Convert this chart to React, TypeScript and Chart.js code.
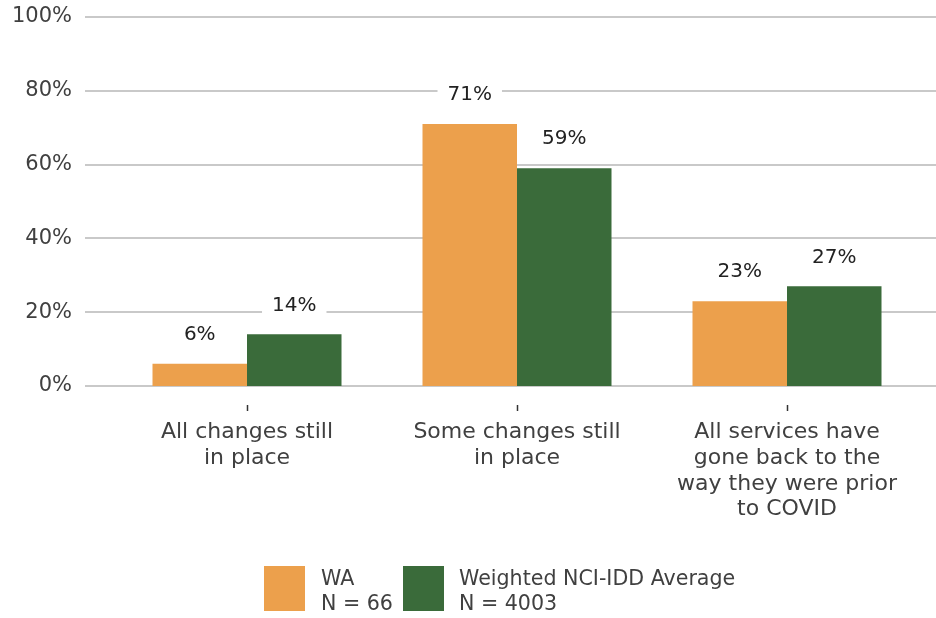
import React, { useEffect, useRef } from "react";
import { Chart, registerables } from "chart.js";

Chart.register(...registerables);

const categories: string[][] = [
  ["All changes still", "in place"],
  ["Some changes still", "in place"],
  ["All services have", "gone back to the", "way they were prior", "to COVID"],
];
const waValues = [6, 71, 23];
const ncValues = [14, 59, 27];
const seriesNames = ["WA", "Weighted NCI-IDD Average"];
const seriesN = ["N = 66", "N = 4003"];
const seriesColors = ["#ECA04C", "#3A6B3A"];

const FONT = "'DejaVu Sans', sans-serif";
const TEXT = "#404040";

const gridPlugin = {
  id: "customGrid",
  beforeDatasetsDraw(chart: any) {
    const { ctx, scales } = chart;
    const y = scales.y;
    ctx.save();
    ctx.strokeStyle = "#c9c9c9";
    ctx.lineWidth = 2;
    y.ticks.forEach((t: any) => {
      const py = Math.round(y.getPixelForValue(t.value));
      ctx.beginPath();
      ctx.moveTo(85, py);
      ctx.lineTo(chart.width, py);
      ctx.stroke();
    });
    // x tick marks
    const x = scales.x;
    const bottom = chart.chartArea.bottom;
    ctx.strokeStyle = "#333";
    ctx.lineWidth = 1.5;
    categories.forEach((_, i) => {
      const px = Math.round(x.getPixelForValue(i)) + 0.5;
      ctx.beginPath();
      ctx.moveTo(px, bottom + 19);
      ctx.lineTo(px, bottom + 25);
      ctx.stroke();
    });
    ctx.restore();
  },
};

const labelPlugin = {
  id: "valueLabels",
  afterDatasetsDraw(chart: any) {
    const { ctx } = chart;
    ctx.save();
    ctx.font = `20px ${FONT}`;
    ctx.textAlign = "center";
    ctx.textBaseline = "middle";
    chart.data.datasets.forEach((ds: any, di: number) => {
      const meta = chart.getDatasetMeta(di);
      meta.data.forEach((bar: any, i: number) => {
        const txt = ds.data[i] + "%";
        const cy = bar.y - 29;
        const w = ctx.measureText(txt).width;
        ctx.fillStyle = "#ffffff";
        ctx.fillRect(bar.x - w / 2 - 10, cy - 13, w + 20, 26);
        ctx.fillStyle = "#222222";
        ctx.fillText(txt, bar.x, cy);
      });
    });
    ctx.restore();
  },
};

const legendPlugin = {
  id: "customLegend",
  afterDraw(chart: any) {
    const { ctx } = chart;
    ctx.save();
    ctx.font = `20.6px ${FONT}`;
    ctx.textAlign = "left";
    ctx.textBaseline = "middle";
    const boxes = [264, 403];
    const texts = [321, 459];
    seriesNames.forEach((name, i) => {
      ctx.fillStyle = seriesColors[i];
      ctx.fillRect(boxes[i], 566, 41, 45);
      ctx.fillStyle = TEXT;
      ctx.fillText(name, texts[i], 580);
      ctx.fillText(seriesN[i], texts[i], 605);
    });
    ctx.restore();
  },
};

export default function App() {
  const ref = useRef<HTMLCanvasElement | null>(null);
  useEffect(() => {
    document.body.style.margin = "0";
    const chart = new Chart(ref.current as HTMLCanvasElement, {
      type: "bar",
      data: {
        labels: categories,
        datasets: [
          {
            label: seriesNames[0],
            data: waValues,
            backgroundColor: seriesColors[0],
            categoryPercentage: 0.7,
            barPercentage: 1.0,
          },
          {
            label: seriesNames[1],
            data: ncValues,
            backgroundColor: seriesColors[1],
            categoryPercentage: 0.7,
            barPercentage: 1.0,
          },
        ],
      },
      options: {
        animation: false,
        responsive: false,
        maintainAspectRatio: false,
        layout: { padding: { top: 17, right: 14, left: 0, bottom: 0 } },
        plugins: {
          legend: { display: false },
          tooltip: { enabled: false },
        },
        scales: {
          x: {
            grid: { display: false, drawTicks: false },
            border: { display: false },
            ticks: {
              padding: 34,
              color: TEXT,
              maxRotation: 0,
              autoSkip: false,
              font: { family: FONT, size: 22, lineHeight: 1.16 },
            },
            afterFit: (s: any) => {
              s.height = 232;
              s.paddingLeft = 0;
              s.paddingRight = 0;
            },
          },
          y: {
            min: 0,
            max: 100,
            grid: { display: false, drawTicks: false },
            border: { display: false },
            ticks: {
              stepSize: 20,
              padding: 40,
              color: TEXT,
              font: { family: FONT, size: 21 },
              callback: (v: any) => v + "%",
            },
            afterFit: (s: any) => {
              s.width = 112;
              s.paddingTop = 0;
              s.paddingBottom = 0;
            },
          },
        },
      },
      plugins: [gridPlugin, labelPlugin, legendPlugin],
    });
    return () => chart.destroy();
  }, []);
  return (
    <div style={{ width: 936, height: 618 }}>
      <canvas ref={ref} width={936} height={618} style={{ display: "block" }} />
    </div>
  );
}
